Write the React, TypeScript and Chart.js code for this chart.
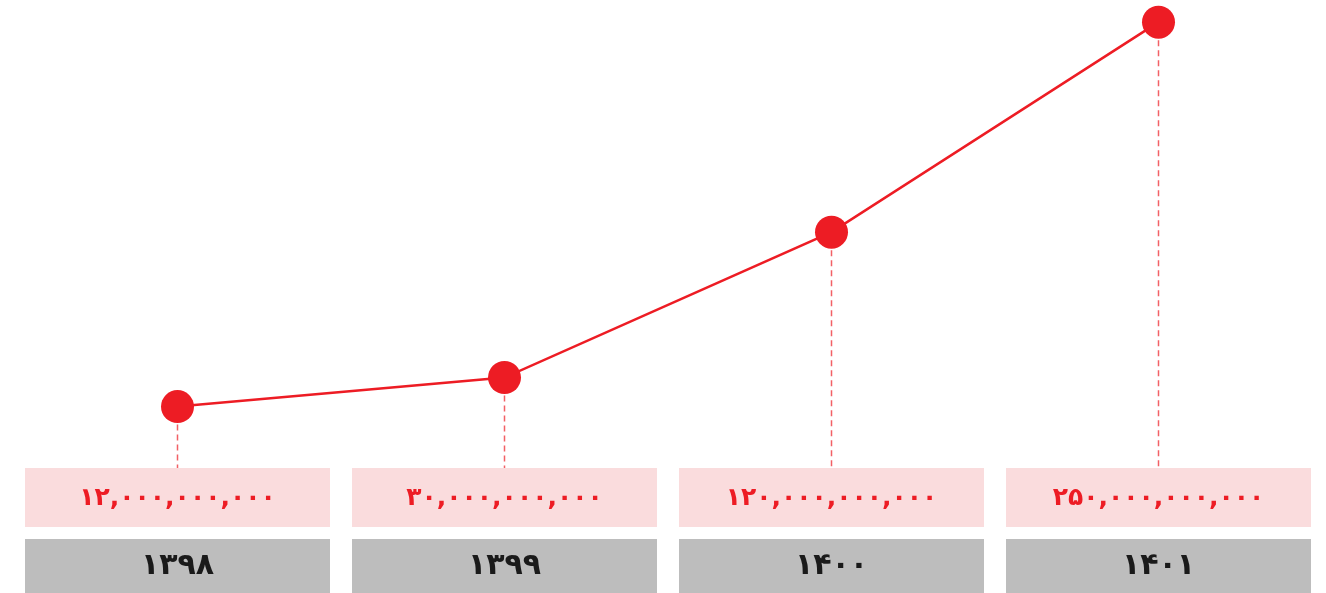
import React, { useEffect, useRef } from "react";
import { Chart, registerables } from "chart.js";

Chart.register(...registerables);

const years: string[] = ["۱۳۹۸", "۱۳۹۹", "۱۴۰۰", "۱۴۰۱"];
const values: number[] = [12, 30, 120, 250]; // billions
const valueLabels: string[] = [
  "۱۲,۰۰۰,۰۰۰,۰۰۰",
  "۳۰,۰۰۰,۰۰۰,۰۰۰",
  "۱۲۰,۰۰۰,۰۰۰,۰۰۰",
  "۲۵۰,۰۰۰,۰۰۰,۰۰۰",
];

const RED = "#ED1C24";
const PINK = "#FADCDD";
const GRAY = "#BDBDBD";

const boxesPlugin = {
  id: "boxes",
  beforeDatasetsDraw(chart: any) {
    const { ctx, chartArea, scales } = chart;
    const xs = scales.x;
    const band = xs.getPixelForValue(1) - xs.getPixelForValue(0);
    const w = band - 22;
    const pinkTop = chartArea.bottom + 42;
    const pinkH = 59;
    const grayTop = pinkTop + 71;
    const grayH = 56;
    const meta = chart.getDatasetMeta(0);
    ctx.save();
    years.forEach((y, i) => {
      const cx = xs.getPixelForValue(i);
      const left = cx - w / 2;
      ctx.fillStyle = PINK;
      ctx.fillRect(left, pinkTop, w, pinkH);
      ctx.fillStyle = GRAY;
      ctx.fillRect(left, grayTop, w, grayH);
      ctx.textAlign = "center";
      ctx.textBaseline = "middle";
      ctx.fillStyle = RED;
      ctx.font = "bold 25px 'DejaVu Sans'";
      ctx.fillText(valueLabels[i], cx, pinkTop + pinkH / 2 + 1);
      ctx.fillStyle = "#1a1a1a";
      ctx.font = "bold 30px 'DejaVu Sans'";
      ctx.fillText(y, cx, grayTop + 27);
      // dashed drop line
      const pt = meta.data[i];
      ctx.strokeStyle = "rgba(237,28,36,0.7)";
      ctx.lineWidth = 1.5;
      ctx.setLineDash([6, 4]);
      ctx.beginPath();
      ctx.moveTo(pt.x, pt.y + 18);
      ctx.lineTo(pt.x, pinkTop);
      ctx.stroke();
      ctx.setLineDash([]);
    });
    ctx.restore();
  },
};

export default function App() {
  const ref = useRef<HTMLCanvasElement>(null);
  useEffect(() => {
    document.body.style.margin = "0";
    const chart = new Chart(ref.current!, {
      type: "line",
      data: {
        labels: years,
        datasets: [
          {
            data: values,
            borderColor: RED,
            backgroundColor: RED,
            borderWidth: 2.5,
            pointRadius: 16.5,
            pointBorderWidth: 0,
            pointBackgroundColor: RED,
            tension: 0,
            clip: false as any,
          },
        ],
      },
      options: {
        animation: false,
        responsive: false,
        layout: { autoPadding: false, padding: { left: 14, right: 4, top: 6, bottom: 167 } },
        plugins: { legend: { display: false }, tooltip: { enabled: false } },
        scales: {
          x: { display: false, offset: true },
          y: { display: false, min: 0, max: 260 },
        },
      },
      plugins: [boxesPlugin],
    });
    return () => chart.destroy();
  }, []);
  return (
    <div style={{ position: "fixed", left: 0, top: 0, width: 1326, height: 593 }}>
      <canvas ref={ref} width={1326} height={593} style={{ width: 1326, height: 593 }} />
    </div>
  );
}
